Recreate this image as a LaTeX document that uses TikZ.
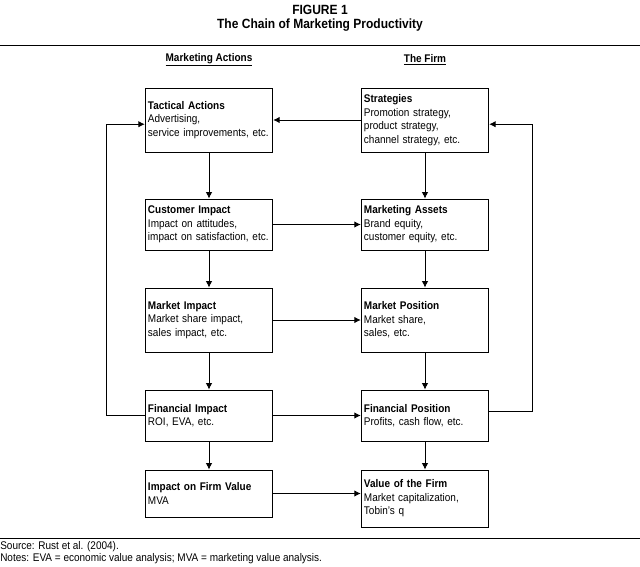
\documentclass[tikz,border=0pt]{standalone}
\usepackage{fontspec}
\setmainfont[FakeStretch=0.9]{Liberation Sans}
\usetikzlibrary{arrows.meta}
\begin{document}
\begin{tikzpicture}[
    x=0.025cm, y=-0.025cm,
    every node/.style={font=\fontsize{7.9}{9.6}\selectfont},
    box/.style={draw, semithick, minimum width=3.15cm, text width=3.05cm, align=left, inner xsep=2pt, inner ysep=3pt},
    flow/.style={draw, semithick, -{Latex[length=4.5pt,width=4.5pt]}},
    ]
\useasboundingbox (0,0) rectangle (640,567);
% title
\node[font=\fontsize{9.5}{11}\selectfont\bfseries] (fig) at (320,10) {FIGURE 1};
\node[font=\fontsize{9.5}{11}\selectfont\bfseries] (title) at (320,25) {The Chain of Marketing Productivity};
\draw[semithick] (0,45) -- (640,45);
\node (hdrA) at (209,60) {\textbf{\underline{Marketing Actions}}};
\node (hdrF) at (425,60) {\textbf{\underline{The Firm}}};
% marketing actions
\node[box, minimum height=1.6cm] (tactical) at (209,120) {\textbf{Tactical Actions}\\Advertising,\\service improvements, etc.\\[6pt]};
\node[box, minimum height=1.275cm] (customer) at (209,224.5) {\textbf{Customer Impact}\\Impact on attitudes,\\impact on satisfaction, etc.};
\node[box, minimum height=1.6cm] (market) at (209,320) {\textbf{Market Impact}\\Market share impact,\\sales impact, etc.\\[6pt]};
\node[box, minimum height=1.275cm] (financial) at (209,415.5) {\textbf{Financial Impact}\\ROI, EVA, etc.\\[4pt]};
\node[box, minimum height=1.175cm] (firmvalue) at (209,493.5) {\textbf{Impact on Firm Value}\\MVA\\[6pt]};
% the firm
\node[box, minimum height=1.6cm] (strategies) at (425,120) {\textbf{Strategies}\\Promotion strategy,\\product strategy,\\channel strategy, etc.};
\node[box, minimum height=1.275cm] (assets) at (425,224.5) {\textbf{Marketing Assets}\\Brand equity,\\customer equity, etc.};
\node[box, minimum height=1.6cm] (position) at (425,320) {\textbf{Market Position}\\Market share,\\sales, etc.\\[6pt]};
\node[box, minimum height=1.275cm] (finpos) at (425,415.5) {\textbf{Financial Position}\\Profits, cash flow, etc.\\[4pt]};
\node[box, minimum height=1.425cm] (value) at (425,498.5) {\textbf{Value of the Firm}\\Market capitalization,\\Tobin's q};
% vertical flows
\foreach \a/\b in {tactical/customer, customer/market, market/financial, financial/firmvalue,
                   strategies/assets, assets/position, position/finpos, finpos/value}
  \draw[flow] (\a) -- (\b);
% horizontal flows
\draw[flow] (strategies) -- (tactical);
\draw[flow] (customer) -- (assets);
\draw[flow] (market) -- (position);
\draw[flow] (financial) -- (finpos);
\draw[flow] (firmvalue.east) -- (firmvalue.east -| value.west);
% feedback loops
\draw[flow] (financial.west) -- ++(-38,0) |- ([yshift=-3]tactical.west);
\draw[flow] ([yshift=3]finpos.east) -- ++(43,0) |- ([yshift=-3]strategies.east);
% notes
\draw[semithick] (0,538) -- (640,538);
\node[anchor=west, inner sep=0pt] (source) at (0,547) {Source: Rust et al. (2004).};
\node[anchor=west, inner sep=0pt] (notes) at (0,559) {Notes: EVA = economic value analysis; MVA = marketing value analysis.};
\end{tikzpicture}
\end{document}
